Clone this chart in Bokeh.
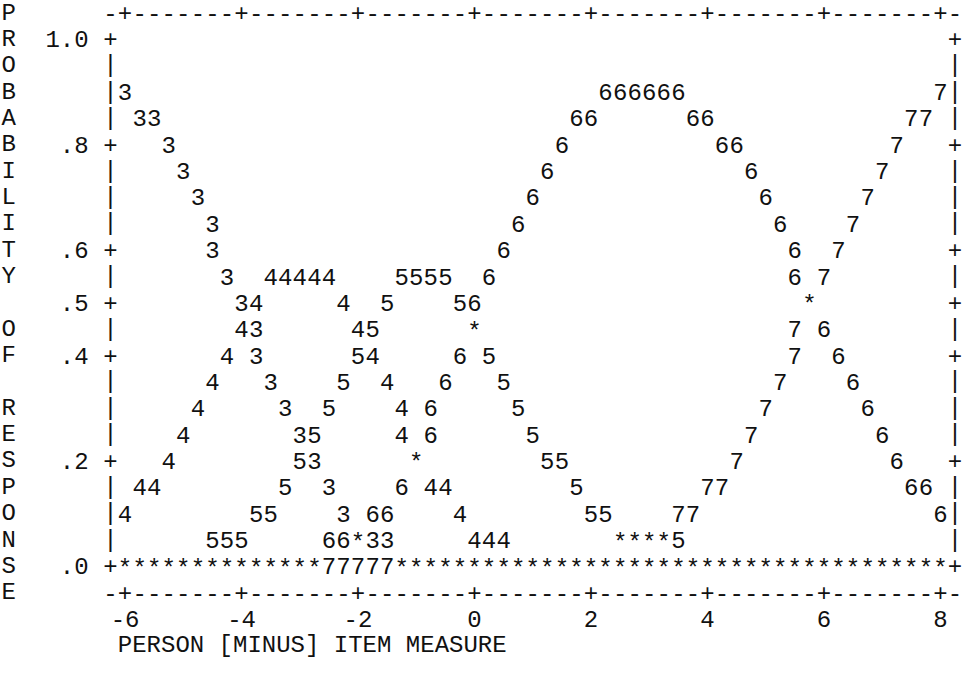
import numpy as np
from bokeh.plotting import figure
from bokeh.models import ColumnDataSource, Range1d
from bokeh.core.properties import value
from bokeh.embed import file_html
from bokeh.resources import INLINE

# ---------------- data ----------------
y_ticks = [1.0, 0.8, 0.6, 0.5, 0.4, 0.2, 0.0]
y_tick_labels = ["1.0", ".8", ".6", ".5", ".4", ".2", ".0"]
x_ticks = [-6, -4, -2, 0, 2, 4, 6, 8]
x_tick_labels = ["-6", "-4", "-2", "0", "2", "4", "6", "8"]
x_title = "PERSON [MINUS] ITEM MEASURE"
y_title = "PROBABILITY OF RESPONSE"

cat3_x = [-6.0, -5.75, -5.5, -5.25, -5.0, -4.75, -4.5, -4.5, -4.25, -4.0,
          -3.75, -3.75, -3.5, -3.25, -3.0, -2.75, -2.5, -2.25, -1.75, -1.5]
cat3_p = [0.90, 0.85, 0.85, 0.80, 0.75, 0.70, 0.65, 0.60, 0.55, 0.50,
          0.45, 0.40, 0.35, 0.30, 0.25, 0.20, 0.15, 0.10, 0.05, 0.05]

cat4_x = [-6.0, -5.75, -5.5, -5.25, -5.0, -4.75, -4.5, -4.25, -4.0, -3.75,
          -3.5, -3.25, -3.0, -2.75, -2.5, -2.25, -2.0, -1.75, -1.5, -1.25,
          -1.25, -0.75, -0.5, -0.25, 0.0, 0.25, 0.5]
cat4_p = [0.10, 0.15, 0.15, 0.20, 0.25, 0.30, 0.35, 0.40, 0.45, 0.50,
          0.55, 0.55, 0.55, 0.55, 0.55, 0.50, 0.45, 0.40, 0.35, 0.30,
          0.25, 0.15, 0.15, 0.10, 0.05, 0.05, 0.05]

cat5_x = [-4.5, -4.25, -4.0, -3.75, -3.5, -3.25, -3.0, -2.75, -2.5, -2.25,
          -2.0, -1.75, -1.5, -1.25, -1.0, -0.75, -0.5, -0.25, 0.25, 0.5,
          0.75, 1.0, 1.25, 1.5, 1.75, 2.0, 2.25, 3.5]
cat5_p = [0.05, 0.05, 0.05, 0.10, 0.10, 0.15, 0.20, 0.25, 0.30, 0.35,
          0.40, 0.45, 0.50, 0.55, 0.55, 0.55, 0.55, 0.50, 0.40, 0.35,
          0.30, 0.25, 0.20, 0.20, 0.15, 0.10, 0.10, 0.05]

cat6_x = [-2.5, -2.25, -1.75, -1.5, -1.25, -0.75, -0.75, -0.5, -0.25, 0.0,
          0.25, 0.5, 0.75, 1.0, 1.25, 1.5, 1.75, 2.0, 2.25, 2.5,
          2.75, 3.0, 3.25, 3.5, 3.75, 4.0, 4.25, 4.5, 4.75, 5.0,
          5.25, 5.5, 5.5, 6.0, 6.25, 6.5, 6.75, 7.0, 7.25, 7.5,
          7.75, 8.0]
cat6_p = [0.05, 0.05, 0.10, 0.10, 0.15, 0.25, 0.30, 0.35, 0.40, 0.50,
          0.55, 0.60, 0.65, 0.70, 0.75, 0.80, 0.85, 0.85, 0.90, 0.90,
          0.90, 0.90, 0.90, 0.90, 0.85, 0.85, 0.80, 0.80, 0.75, 0.70,
          0.65, 0.60, 0.55, 0.45, 0.40, 0.35, 0.30, 0.25, 0.20, 0.15,
          0.15, 0.10]

cat7_x = [-2.5, -2.25, -2.0, -1.75, -1.5, 3.5, 3.75, 4.0, 4.25, 4.5,
          4.75, 5.0, 5.25, 5.5, 5.5, 6.0, 6.25, 6.5, 6.75, 7.0,
          7.25, 7.5, 7.75, 8.0]
cat7_p = [0.0, 0.0, 0.0, 0.0, 0.0, 0.10, 0.10, 0.15, 0.15, 0.20,
          0.25, 0.30, 0.35, 0.40, 0.45, 0.55, 0.60, 0.65, 0.70, 0.75,
          0.80, 0.85, 0.85, 0.90]

# cells where two or more curves coincide ("*")
overlap_x = [-2.0, -1.0, 0.0, 5.75, 2.5, 2.75, 3.0, 3.25]
overlap_p = [0.05, 0.20, 0.45, 0.50, 0.05, 0.05, 0.05, 0.05]
overlap_zero_x = [-6.0, -5.75, -5.5, -5.25, -5.0, -4.75, -4.5, -4.25, -4.0,
                  -3.75, -3.5, -3.25, -3.0, -2.75,
                  -1.25, -1.0, -0.75, -0.5, -0.25, 0.0, 0.25, 0.5, 0.75,
                  1.0, 1.25, 1.5, 1.75, 2.0, 2.25, 2.5, 2.75, 3.0, 3.25,
                  3.5, 3.75, 4.0, 4.25, 4.5, 4.75, 5.0, 5.25, 5.5, 5.75,
                  6.0, 6.25, 6.5, 6.75, 7.0, 7.25, 7.5, 7.75, 8.0]

categories = [("3", cat3_x, cat3_p), ("4", cat4_x, cat4_p), ("5", cat5_x, cat5_p),
              ("6", cat6_x, cat6_p), ("7", cat7_x, cat7_p)]

# ---------------- character-grid layout ----------------
STEP = 0.25      # logits per character cell
ROW = 0.05       # probability per text row
PX_COL = 14.56
PX_ROW = 26.35
LEFT_PX = 110.0  # screen position of the left border column
TOP_PX = 12.5    # screen position of the top ruler row
W, H = 962, 661
FONT = value("Liberation Mono")
FSIZE = "24px"
INK = "#111111"

left = min(x_ticks) - STEP
right = max(x_ticks) + STEP
top = max(y_ticks) + ROW
bottom = min(y_ticks) - ROW

x0 = left - LEFT_PX / PX_COL * STEP
x1 = x0 + W / PX_COL * STEP
y1 = top + TOP_PX / PX_ROW * ROW
y0 = y1 - H / PX_ROW * ROW

p = figure(width=W, height=H, x_range=Range1d(x0, x1), y_range=Range1d(y0, y1),
           output_backend="svg", toolbar_location=None, min_border=0)
p.axis.visible = False
p.grid.visible = False
p.outline_line_color = None
p.background_fill_color = "white"
p.border_fill_color = "white"


def is_tick(v, ticks):
    return any(abs(v - t) < 1e-9 for t in ticks)


def put(xs, ys, texts, align="center", dy=0):
    src = ColumnDataSource(dict(x=list(xs), y=list(ys), t=list(texts)))
    p.text(x="x", y="y", text="t", source=src, text_font=FONT,
           text_font_size=FSIZE, text_color=INK, text_align=align,
           text_baseline="middle", y_offset=dy)


# frame: top and bottom rulers
n_cols = int(round((right - left) / STEP))
fx, fy, ft = [], [], []
for k in range(n_cols + 1):
    xv = left + k * STEP
    ch = "+" if is_tick(xv, x_ticks) else "-"
    for yv in (top, bottom):
        fx.append(xv); fy.append(yv); ft.append(ch)
# left and right borders
n_rows = int(round((top - bottom) / ROW))
for r in range(1, n_rows):
    yv = top - r * ROW
    ch = "+" if is_tick(yv, y_ticks) else "|"
    for xv in (left, right):
        fx.append(xv); fy.append(yv); ft.append(ch)
put(fx, fy, ft)

# y tick labels
put([left - 1.5 * STEP] * len(y_ticks), y_ticks, y_tick_labels, align="right")
# x tick labels
put(x_ticks, [bottom - ROW] * len(x_ticks), x_tick_labels)
# x title
put([min(x_ticks) - 0.5 * STEP], [bottom - 2 * ROW], [x_title], align="left")
# stacked y title
ty = [top - i * ROW for i, c in enumerate(y_title) if c != " "]
tt = [c for c in y_title if c != " "]
put([left - 7 * STEP] * len(tt), ty, tt)

# curves
for label, xs, ps in categories:
    put(xs, ps, [label] * len(xs))
# overlaps
put(overlap_x + overlap_zero_x, overlap_p + [0.0] * len(overlap_zero_x),
    ["*"] * (len(overlap_x) + len(overlap_zero_x)), dy=3)

open("out.html", "w").write(file_html(p, INLINE))
